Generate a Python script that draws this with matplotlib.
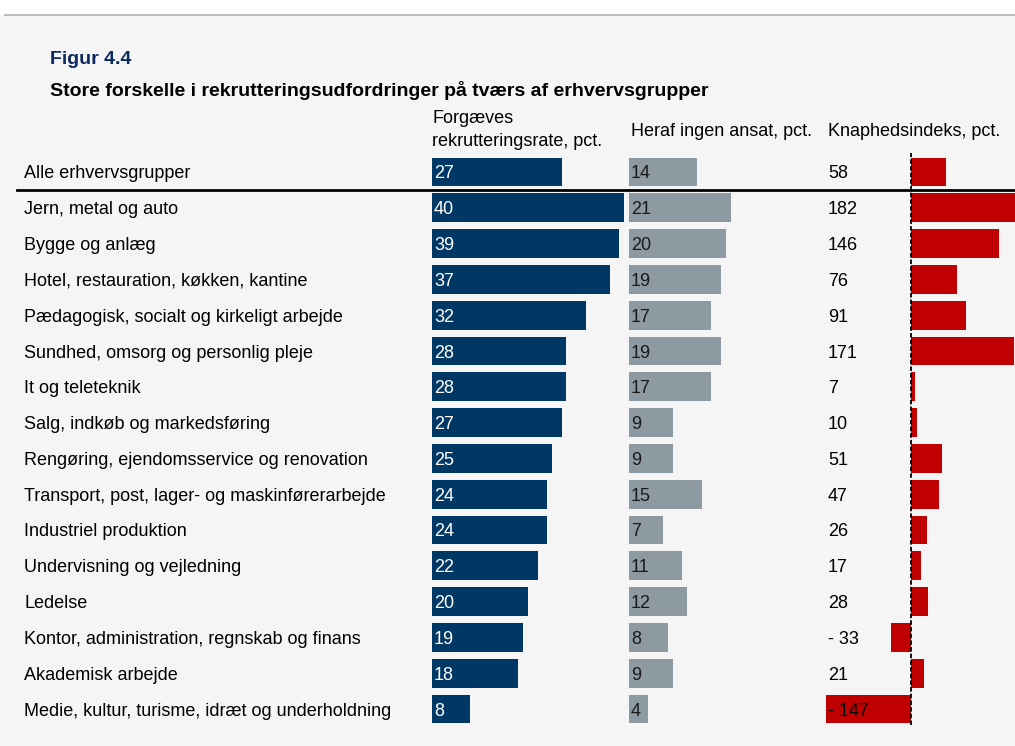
import matplotlib
matplotlib.use("Agg")
import matplotlib.pyplot as plt
from matplotlib.transforms import blended_transform_factory
from matplotlib.patches import Rectangle
from matplotlib.lines import Line2D

plt.rcParams['font.family'] = ['Liberation Sans', 'DejaVu Sans']

categories = [
    "Alle erhvervsgrupper",
    "Jern, metal og auto",
    "Bygge og anlæg",
    "Hotel, restauration, køkken, kantine",
    "Pædagogisk, socialt og kirkeligt arbejde",
    "Sundhed, omsorg og personlig pleje",
    "It og teleteknik",
    "Salg, indkøb og markedsføring",
    "Rengøring, ejendomsservice og renovation",
    "Transport, post, lager- og maskinførerarbejde",
    "Industriel produktion",
    "Undervisning og vejledning",
    "Ledelse",
    "Kontor, administration, regnskab og finans",
    "Akademisk arbejde",
    "Medie, kultur, turisme, idræt og underholdning",
]
rate = [27, 40, 39, 37, 32, 28, 28, 27, 25, 24, 24, 22, 20, 19, 18, 8]
ingen = [14, 21, 20, 19, 17, 19, 17, 9, 9, 15, 7, 11, 12, 8, 9, 4]
knap = [58, 182, 146, 76, 91, 171, 7, 10, 51, 47, 26, 17, 28, -33, 21, -147]

col_headers = ["Forgæves\nrekrutteringsrate, pct.", "Heraf ingen ansat, pct.", "Knaphedsindeks, pct."]
fig_label = "Figur 4.4"
title = "Store forskelle i rekrutteringsudfordringer på tværs af erhvervsgrupper"

BLUE = "#003865"
GRAY = "#8e9aa2"
RED = "#c00000"
BG = "#f5f5f5"
FS = 13

W, H = 1015, 746
fig = plt.figure(figsize=(W / 100, H / 100), dpi=100)
fig.patch.set_facecolor(BG)

def fx(x):
    return x / W

def fy(y):
    return 1 - y / H

# top white strip and grey rule
fig.patches.append(Rectangle((0, fy(15)), 1, 1 - fy(15), transform=fig.transFigure,
                             facecolor="white", edgecolor="none", zorder=0))
fig.lines.append(Line2D([fx(5), 1], [fy(15), fy(15)], transform=fig.transFigure,
                        color="#b0b0b0", lw=1.2))

top_px, bot_px = 150, 728
row0, step = 172, 35.8
n = len(categories)
ylim = ((bot_px - row0) / step, (top_px - row0) / step)

def make_ax(x0, x1):
    ax = fig.add_axes([fx(x0), fy(bot_px), fx(x1) - fx(x0), fy(top_px) - fy(bot_px)])
    ax.set_facecolor("none")
    ax.set_ylim(*ylim)
    for s in ax.spines.values():
        s.set_visible(False)
    ax.set_xticks([])
    ax.set_yticks([])
    return ax

pos = list(range(n))
bh = 0.81

ax1 = make_ax(432, 624)
ax1.set_xlim(0, 40)
ax1.barh(pos, rate, height=bh, color=BLUE)

ax2 = make_ax(629, 732)
ax2.set_xlim(0, 103 / 4.85)
ax2.barh(pos, ingen, height=bh, color=GRAY)

ax3 = make_ax(826, 1015)
ax3.set_xlim(-85 / 0.605, 104 / 0.605)
ax3.barh(pos, knap, height=bh, color=RED)
ax3.axvline(0, ymin=(bot_px - 725) / (bot_px - top_px),
            ymax=(bot_px - 153) / (bot_px - top_px), color="black",
            lw=1.3, ls=(0, (2.5, 1.2)))

# overlay axes for all text (drawn last, on top of bars)
axt = make_ax(0, W)
axt.set_xlim(0, 1)
tr = blended_transform_factory(fig.transFigure, axt.transData)
kw = dict(transform=tr, ha="left", va="center_baseline", fontsize=FS)
for i in range(n):
    axt.text(fx(24), i, categories[i], color="black", **kw)
    axt.text(fx(434), i, str(rate[i]), color="white", **kw)
    axt.text(fx(631), i, str(ingen[i]), color="#1a1a1a", **kw)
    v = knap[i]
    s = str(v) if v >= 0 else "- " + str(-v)
    axt.text(fx(828), i, s, color="black", **kw)

# separator line
axt.plot([fx(17), 1], [0.5, 0.5], transform=tr, color="black", lw=2,
         clip_on=False)

fig.text(fx(50), fy(58), fig_label, fontsize=14, fontweight="bold",
         color="#0b2a5e", va="center_baseline", ha="left")
fig.text(fx(50), fy(89), title, fontsize=14, fontweight="bold",
         color="black", va="center_baseline", ha="left")

fig.text(fx(432), fy(130), col_headers[0], fontsize=FS, va="center", ha="left",
         linespacing=1.45)
fig.text(fx(631), fy(129), col_headers[1], fontsize=FS, va="center_baseline", ha="left")
fig.text(fx(828), fy(129), col_headers[2], fontsize=FS, va="center_baseline", ha="left")

fig.savefig("out.png", dpi=100, facecolor=fig.get_facecolor())
